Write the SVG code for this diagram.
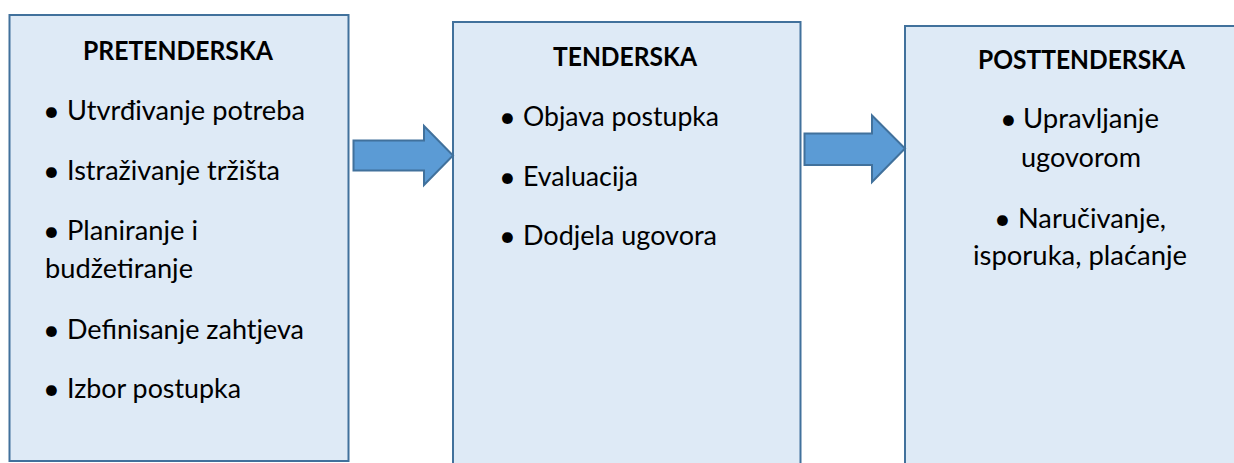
<svg xmlns="http://www.w3.org/2000/svg" width="1234" height="463" viewBox="0 0 1234 463">
<style>
.box{fill:#DEEAF6;stroke:#41719C;stroke-width:2}
.arrow{fill:#5B9BD5;stroke:#41719C;stroke-width:2;stroke-linejoin:miter}
text{font-family:Lato,"Open Sans","Liberation Sans",sans-serif;font-size:27px;fill:#000}
.title{font-weight:bold;text-anchor:middle;font-size:26px}
.b{font-size:29px}
</style>
<rect width="1234" height="463" fill="#fff"/>
<g id="node-pretenderska">
<rect class="box" x="9.5" y="15" width="339" height="446"/>
<text class="title" x="178" y="60" textLength="190" lengthAdjust="spacingAndGlyphs">PRETENDERSKA</text>
<text><tspan class="b" x="43" y="121">• </tspan><tspan x="67" y="120" textLength="238" lengthAdjust="spacingAndGlyphs">Utvrđivanje potreba</tspan></text>
<text><tspan class="b" x="43" y="181">• </tspan><tspan x="67" y="180" textLength="213" lengthAdjust="spacingAndGlyphs">Istraživanje tržišta</tspan></text>
<text><tspan class="b" x="43" y="241">• </tspan><tspan x="67" y="240" textLength="131" lengthAdjust="spacingAndGlyphs">Planiranje i</tspan></text>
<text x="45" y="278" textLength="148" lengthAdjust="spacingAndGlyphs">budžetiranje</text>
<text><tspan class="b" x="43" y="340">• </tspan><tspan x="67" y="339" textLength="237" lengthAdjust="spacingAndGlyphs">Definisanje zahtjeva</tspan></text>
<text><tspan class="b" x="43" y="399">• </tspan><tspan x="67" y="398" textLength="174" lengthAdjust="spacingAndGlyphs">Izbor postupka</tspan></text>
</g>
<g id="node-tenderska">
<rect class="box" x="453" y="22" width="347.5" height="452"/>
<text class="title" x="625" y="66" textLength="144" lengthAdjust="spacingAndGlyphs">TENDERSKA</text>
<text><tspan class="b" x="499" y="127">• </tspan><tspan x="523" y="126" textLength="196" lengthAdjust="spacingAndGlyphs">Objava postupka</tspan></text>
<text><tspan class="b" x="499" y="187">• </tspan><tspan x="523" y="186" textLength="115" lengthAdjust="spacingAndGlyphs">Evaluacija</tspan></text>
<text><tspan class="b" x="499" y="246">• </tspan><tspan x="523" y="245" textLength="194" lengthAdjust="spacingAndGlyphs">Dodjela ugovora</tspan></text>
</g>
<g id="node-posttenderska">
<rect class="box" x="905" y="26" width="360" height="452"/>
<text class="title" x="1081.5" y="69" textLength="207" lengthAdjust="spacingAndGlyphs">POSTTENDERSKA</text>
<text><tspan class="b" x="1000" y="129">• </tspan><tspan x="1023" y="128" textLength="136" lengthAdjust="spacingAndGlyphs">Upravljanje</tspan></text>
<text x="1021" y="167" textLength="120" lengthAdjust="spacingAndGlyphs">ugovorom</text>
<text><tspan class="b" x="994" y="229">• </tspan><tspan x="1018" y="228" textLength="148" lengthAdjust="spacingAndGlyphs">Naručivanje,</tspan></text>
<text x="973" y="265" textLength="214" lengthAdjust="spacingAndGlyphs">isporuka, plaćanje</text>
</g>
<g id="connectors">
<polygon class="arrow" points="353.5,140.5 424,140.5 424,126 453,155.5 424,185 424,170.5 353.5,170.5"/>
<polygon class="arrow" points="804.5,133.5 872,133.5 872,115.5 905,148.5 872,182 872,165 804.5,165"/>
</g>
</svg>
